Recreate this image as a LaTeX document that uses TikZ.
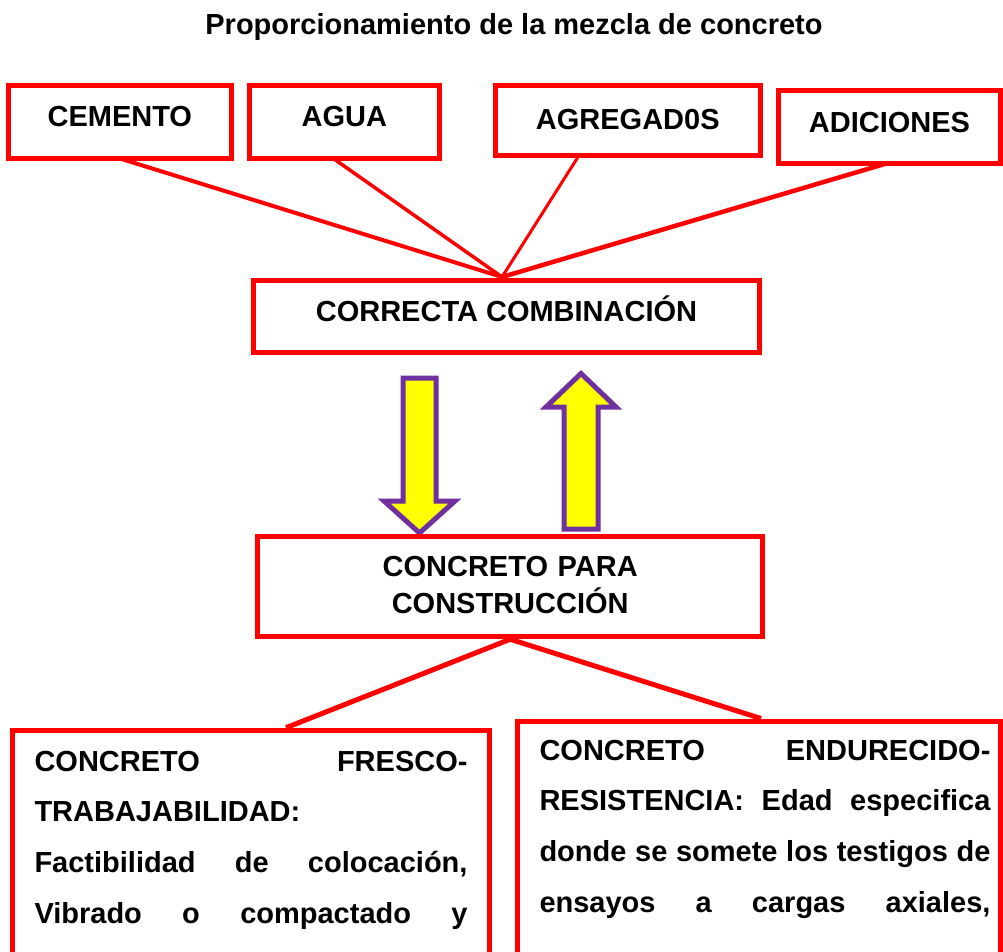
\documentclass[tikz,border=0pt]{standalone}
\usepackage{fontspec}
\setmainfont{Liberation Sans}
\usetikzlibrary{calc}
\definecolor{boxred}{HTML}{FF0000}
\definecolor{arrowpurple}{HTML}{7030A0}
\definecolor{arrowyellow}{HTML}{FFFF00}
\tikzset{
  every node/.style={font=\bfseries\fontsize{29}{35}\selectfont, inner sep=0pt},
  redbox/.style={draw=boxred, line width=5pt, rectangle, fill=white},
  link/.style={draw=boxred, line width=4pt},
  blockarrow/.style={draw=arrowpurple, fill=arrowyellow, line width=5pt, line join=miter},
  bodytext/.style={font=\bfseries\fontsize{29}{50.8}\selectfont, align=left},
}
\newcommand{\fullline}[2]{\leavevmode\hbox to #1{#2}}
\begin{document}
\begin{tikzpicture}[x=1pt,y=-1pt]
\clip (0,0) rectangle (1003,951);
\fill[white] (0,0) rectangle (1003,951);

% title
\node[anchor=base] (title) at (514,34.3) {Proporcionamiento de la mezcla de concreto};

% junction points
\coordinate (jtop) at (502,277);

% anchors for the top boxes
\node[minimum width=222.5pt, minimum height=72.7pt] (cem) at (119.8,121.9) {};
\node[minimum width=189.5pt, minimum height=72.7pt] (agua) at (344.3,121.9) {};
\node[minimum width=265.4pt, minimum height=70pt] (agr) at (627.8,120.5) {};
\node[minimum width=222pt, minimum height=72.7pt] (adi) at (889.5,126.9) {};

\draw[link, line width=4pt] (cem.south) -- (jtop);
\draw[link, line width=3.5pt] ([xshift=-11pt]agua.south) -- (jtop);
\draw[link, line width=3pt] ([xshift=-49pt]agr.south) -- (jtop);
\draw[link, line width=4.5pt] ([xshift=-3pt]adi.south) -- (jtop);

% top boxes
\node[redbox, minimum width=222.5pt, minimum height=72.7pt, text height=22pt, text depth=12.4pt] at (cem) {CEMENTO};
\node[redbox, minimum width=189.5pt, minimum height=72.7pt, text height=22pt, text depth=12.4pt] at (agua) {AGUA};
\node[redbox, minimum width=265.4pt, minimum height=70pt, text height=22pt, text depth=4.4pt] at (agr) {AGREGAD0S};
\node[redbox, minimum width=222pt, minimum height=72.7pt, text height=22pt, text depth=11.8pt] at (adi) {ADICIONES};

% combination box
\node[redbox, minimum width=506pt, minimum height=72pt, text height=22pt, text depth=11.6pt] (comb) at (506.5,316.5) {CORRECTA COMBINACIÓN};

% block arrows
\draw[blockarrow] (403,378) -- (436,378) -- (436,501) -- (455,501) -- (419.5,533) -- (384,501) -- (403,501) -- cycle;

% concrete box
\node[redbox, minimum width=504.5pt, minimum height=100.3pt] (cpc) at (510.2,586.6) {};
\node[anchor=base, text width=500pt, align=center, font=\bfseries\fontsize{29}{36.6}\selectfont] (cpctext) at (510.2,576.7) {CONCRETO PARA\\CONSTRUCCIÓN};

\draw[blockarrow] (564,529) -- (598,529) -- (598,407) -- (616,407) -- (581,373.5) -- (546,407) -- (564,407) -- cycle;

% bottom boxes
\node[redbox, minimum width=477pt, minimum height=270pt] (fresh) at (250.5,865.2) {};
\node[redbox, minimum width=483pt, minimum height=279pt] (hard) at (759,860.5) {};

\draw[link, line width=5pt] (cpc.south) -- ([xshift=35.5pt]fresh.north);
\draw[link, line width=5pt] (cpc.south) -- ([xshift=2pt]hard.north);

\node[bodytext, anchor=base west, text width=433pt] (freshtext) at (34.3,771) {%
\fullline{433pt}{CONCRETO\hfill FRESCO-}\\
TRABAJABILIDAD:\\
\fullline{433pt}{Factibilidad\hfill de\hfill colocación,}\\
\fullline{433pt}{Vibrado\hfill o\hfill compactado\hfill y}};

\node[bodytext, anchor=base west, text width=451pt] (hardtext) at (539.3,760) {%
\fullline{451pt}{CONCRETO\hfill ENDURECIDO-}\\
\fullline{451pt}{RESISTENCIA:\hfill Edad\hfill especifica}\\
\fullline{451pt}{donde\hfill se\hfill somete\hfill los\hfill testigos\hfill de}\\
\fullline{451pt}{ensayos\hfill a\hfill cargas\hfill axiales,}};
\end{tikzpicture}
\end{document}
